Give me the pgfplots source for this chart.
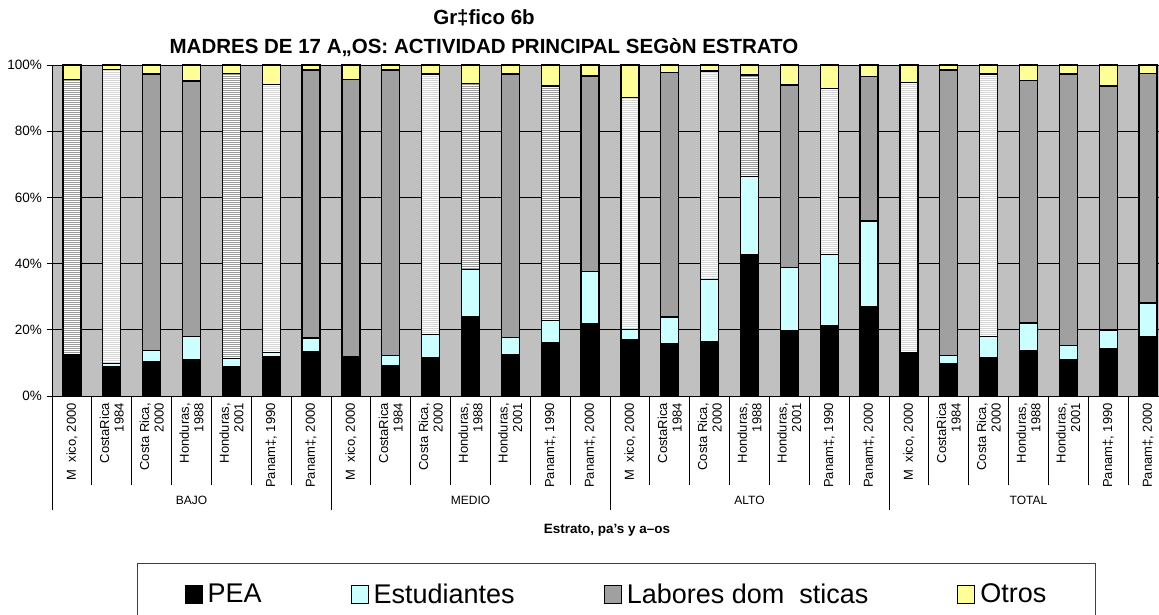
\documentclass[border=0pt]{standalone}
\usepackage{pgfplots}
\pgfplotsset{compat=1.18}
\usepackage{pgfplotstable}
\usepackage{fontspec}
\setmainfont{Liberation Sans}
\usetikzlibrary{patterns.meta}

\definecolor{fondo}{HTML}{C0C0C0}
\definecolor{labgris}{HTML}{A0A0A0}
\definecolor{estcian}{HTML}{CCFFFF}
\definecolor{otramar}{HTML}{FFFF99}
\definecolor{rayaosc}{HTML}{9A9A9A}
\definecolor{rayaclr}{HTML}{D4D4D4}

% columnas: PEA, Estudiantes, Labores (solido / rayado oscuro / rayado claro), Otros
\pgfplotstableread{
x  pea  est  lsol lden llig otr
0  12.3 0.2  0    83.1 0    4.4
1  8.8  1.0  0    0    88.9 1.3
2  10.5 3.3  83.5 0    0    2.7
3  11.0 7.0  77.2 0    0    4.8
4  9.0  2.3  0    86.2 0    2.5
5  12.0 1.1  0    0    81.1 5.8
6  13.5 4.0  81.0 0    0    1.5
7  11.8 0.2  83.7 0    0    4.3
8  9.3  3.0  86.2 0    0    1.5
9  11.6 6.9  0    0    78.8 2.7
10 24.1 14.1 0    56.3 0    5.5
11 12.4 5.2  79.7 0    0    2.7
12 16.1 6.8  0    70.8 0    6.3
13 21.9 15.8 59.0 0    0    3.3
14 17.0 3.1  0    0    70.1 9.8
15 15.8 8.1  73.8 0    0    2.3
16 16.3 18.9 0    0    63.0 1.8
17 42.8 23.6 0    30.6 0    3.0
18 19.6 19.2 55.2 0    0    6.0
19 21.4 21.4 0    0    50.1 7.1
20 26.9 26.0 43.6 0    0    3.5
21 12.8 0.3  0    0    81.7 5.2
22 9.8  2.5  86.2 0    0    1.5
23 11.6 6.4  0    0    79.3 2.7
24 13.8 8.3  73.2 0    0    4.7
25 11.0 4.3  82.0 0    0    2.7
26 14.3 5.6  73.8 0    0    6.3
27 17.8 10.3 69.4 0    0    2.5
}\datos

\begin{document}
\begin{tikzpicture}[x=1pt,y=1pt]
\useasboundingbox (0,0) rectangle (1159,-615);

\node[font=\bfseries\fontsize{20.5}{24}\selectfont, anchor=base] at (484,-25) {Gr‡fico 6b};
\node[font=\bfseries\fontsize{20.5}{24}\selectfont, anchor=base] at (484,-54) {MADRES DE 17 A„OS: ACTIVIDAD PRINCIPAL SEGòN ESTRATO};

\begin{axis}[
    at={(52pt,-396pt)}, anchor=south west,
    scale only axis,
    width=1116pt, height=331pt,
    ybar stacked,
    bar width=18pt,
    xmin=-0.5, xmax=27.5,
    ymin=0, ymax=100,
    clip=false,
    axis background/.style={fill=fondo},
    axis line style={black, line width=0.8pt},
    ymajorgrids=true,
    grid style={black, line width=0.7pt},
    ytick={0,20,40,60,80,100},
    yticklabel={\pgfmathprintnumber{\tick}\%},
    /pgf/number format/assume math mode=true,
    ytick pos=left,
    ytick align=outside,
    major tick length=5pt,
    ytick style={black, line width=0.8pt},
    yticklabel style={font=\fontsize{13.5}{16}\selectfont, inner sep=0pt, xshift=-5pt},
    xtick={0,...,27},
    xtick style={draw=none},
    xticklabels={{M\ \ xico, 2000},{CostaRica\\1984},{Costa Rica,\\2000},{Honduras,\\1988},{Honduras,\\2001},{Panam‡, 1990},{Panam‡, 2000},
                 {M\ \ xico, 2000},{CostaRica\\1984},{Costa Rica,\\2000},{Honduras,\\1988},{Honduras,\\2001},{Panam‡, 1990},{Panam‡, 2000},
                 {M\ \ xico, 2000},{CostaRica\\1984},{Costa Rica,\\2000},{Honduras,\\1988},{Honduras,\\2001},{Panam‡, 1990},{Panam‡, 2000},
                 {M\ \ xico, 2000},{CostaRica\\1984},{Costa Rica,\\2000},{Honduras,\\1988},{Honduras,\\2001},{Panam‡, 1990},{Panam‡, 2000}},
    xticklabel shift=7pt,
    xticklabel style={rotate=90, anchor=east, align=right, inner sep=0pt,
                      font=\fontsize{13}{14.5}\selectfont},
    barra/.style={draw=black, line width=1.3pt},
    legend columns=4,
    legend style={at={(axis description cs:0.0762,-0.5045)}, anchor=north west,
                  draw=black!75, line width=1pt, inner xsep=47pt, inner ysep=18pt,
                  font=\fontsize{27}{31}\selectfont,
                  /tikz/every even column/.append style={column sep=87pt}},
    legend image code/.code={\draw[#1, line width=0.8pt] (0pt,-9pt) rectangle (17pt,9pt);
                             \path (20pt,0pt);},
]
\addplot[barra, fill=black] table[x=x, y=pea]{\datos};
\addlegendentry{PEA}
\addplot[barra, fill=estcian] table[x=x, y=est]{\datos};
\addlegendentry{Estudiantes}
\addplot[barra, fill=labgris] table[x=x, y=lsol]{\datos};
\addlegendentry{Labores dom\ \ sticas}
\addplot[barra, fill=white, forget plot,
         postaction={pattern={Lines[angle=0, distance=2pt, line width=1pt]}, pattern color=rayaosc}]
         table[x=x, y=lden]{\datos};
\addplot[barra, fill=white, forget plot,
         postaction={pattern={Lines[angle=0, distance=2pt, line width=1pt]}, pattern color=rayaclr}]
         table[x=x, y=llig]{\datos};
\addplot[barra, fill=otramar] table[x=x, y=otr]{\datos};
\addlegendentry{Otros}
\end{axis}

% separadores de la tabla de categorias
\foreach \k in {1,...,27} {
  \draw[black, line width=0.8pt] (52+\k*39.857,-396) -- (52+\k*39.857,-485);
}
\foreach \k in {0,7,14,21,28} {
  \draw[black, line width=0.8pt] (52+\k*39.857,-396) -- (52+\k*39.857,-510);
}
\foreach \g/\n in {0/BAJO,1/MEDIO,2/ALTO,3/TOTAL} {
  \node[font=\fontsize{12}{14}\selectfont] at (52+\g*279+139.5,-500) {\n};
}
\node[font=\bfseries\fontsize{13.5}{16}\selectfont] at (607,-530) {Estrato, pa’s y a–os};
\end{tikzpicture}
\end{document}
